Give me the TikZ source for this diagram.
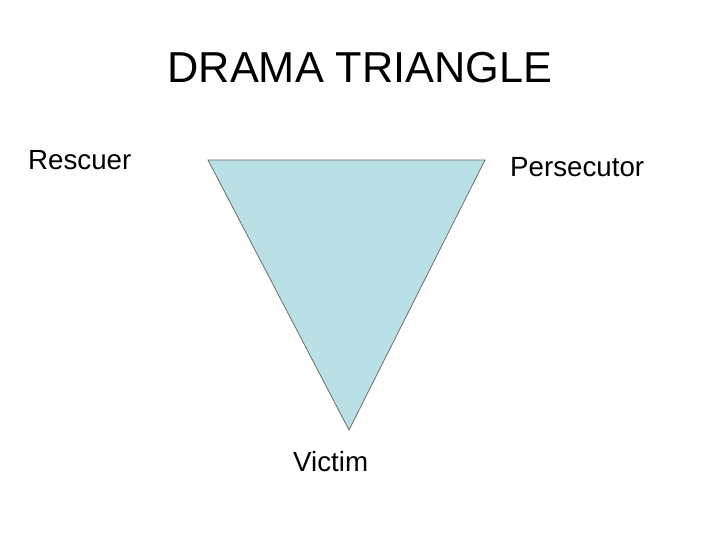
\documentclass[tikz,border=0pt]{standalone}
\usepackage{fontspec}
\setmainfont{Liberation Sans}
\begin{document}
\begin{tikzpicture}[x=1pt,y=-1pt,
  lbl/.style={inner sep=0pt,font=\fontsize{27.7}{30}\selectfont},
  ttl/.style={inner sep=0pt,font=\fontsize{43.3}{46}\selectfont}]
\useasboundingbox (0,0) rectangle (720,540);
\coordinate (tl) at (208,160);
\coordinate (tr) at (485,160);
\coordinate (bt) at (349,430);
\filldraw[fill={rgb,255:red,185;green,224;blue,228},draw={rgb,255:red,110;green,110;blue,110},line width=0.8pt] (tl) -- (tr) -- (bt) -- cycle;
\node[ttl] (title) at (360,68) {DRAMA TRIANGLE};
\node[lbl,anchor=west] (rescuer) at (28,160) {Rescuer};
\node[lbl,anchor=west] (persecutor) at (510,167) {Persecutor};
\node[lbl,anchor=west] (victim) at (293,462) {Victim};
\end{tikzpicture}
\end{document}
